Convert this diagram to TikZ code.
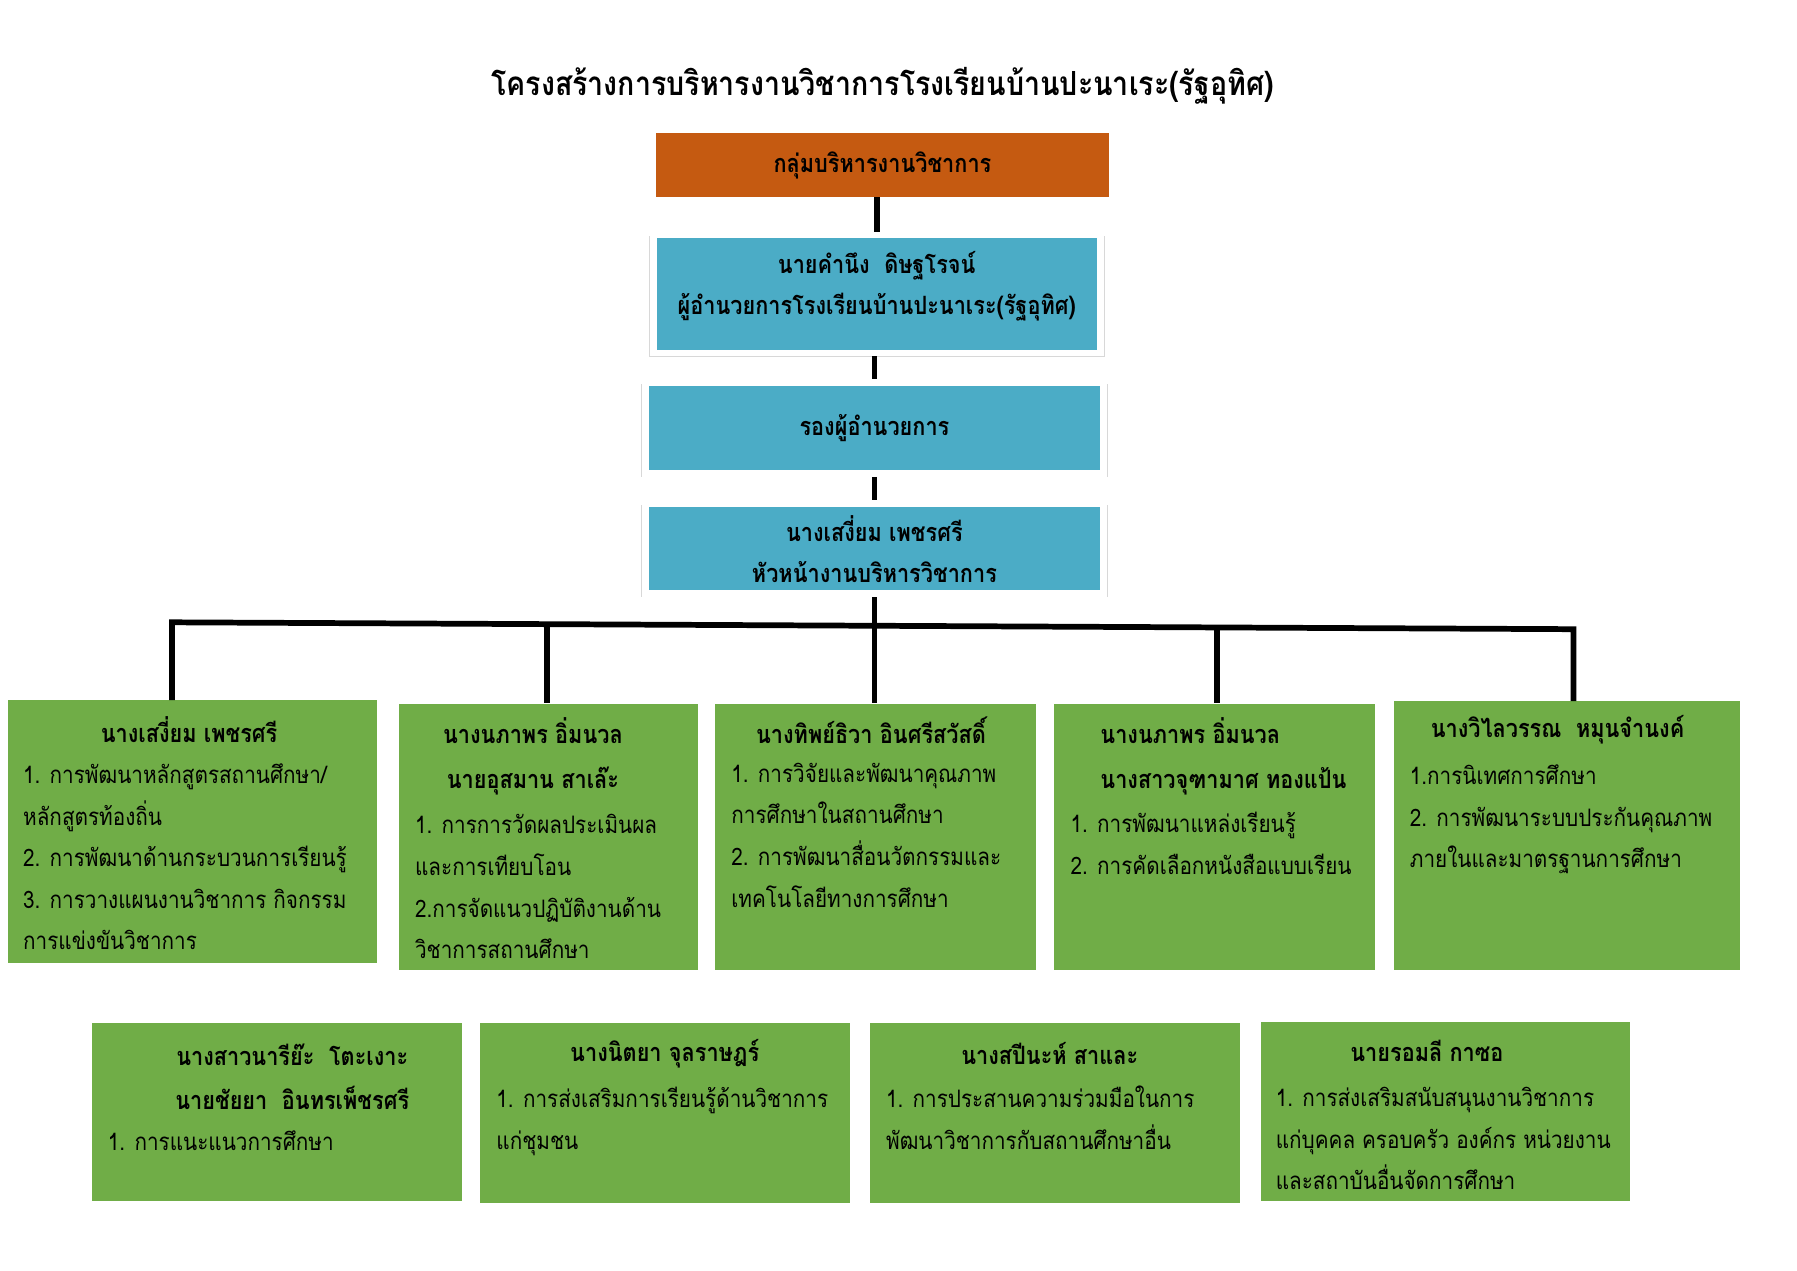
\documentclass[tikz,border=0pt]{standalone}
\usepackage{fontspec}
\setmainfont[Script=Thai, FakeStretch=0.86]{Loma}
\usetikzlibrary{shadows}

\definecolor{orghead}{HTML}{C55A11}
\definecolor{unitblue}{HTML}{4BACC6}
\definecolor{taskgreen}{HTML}{70AD47}

\tikzset{
  link/.style={line width=5pt},
  orgbox/.style={fill=orghead, inner sep=0pt, minimum width=396pt, minimum height=56pt},
  unitbox/.style={fill=unitblue, draw=white, line width=6pt, inner sep=0pt,
    drop shadow={shadow scale=1.02, shadow xshift=0pt, shadow yshift=-2pt, opacity=0.22, fill=black!70}},
  taskbox/.style={fill=taskgreen, inner sep=0pt},
  headtext/.style={font=\fontsize{22}{39}\selectfont\bfseries, align=center, inner sep=0pt},
  bodytext/.style={font=\fontsize{21}{36.3}\selectfont, align=left, anchor=north west, inner sep=0pt}
}

\begin{document}
\begin{tikzpicture}[x=1pt, y=-1pt]
        \useasboundingbox (0,0) rectangle (1568,1109);

        \node [font=\fontsize{29}{34}\selectfont\bfseries] (title) at (770,75)
          {โครงสร้างการบริหารงานวิชาการโรงเรียนบ้านปะนาเระ(รัฐอุทิศ)};

        \node [orgbox] (org) at (770,144) {};
        \node [headtext] at (org) {กลุ่มบริหารงานวิชาการ};

        \node [unitbox, minimum width=390pt, minimum height=103pt] (dir) at (765,256.5) {};
        \node [headtext, font=\fontsize{22}{36}\selectfont\bfseries] at (765,250)
          {นายคำนึง\ \ ดิษฐโรจน์\\ผู้อำนวยการโรงเรียนบ้านปะนาเระ(รัฐอุทิศ)};

        \node [unitbox, minimum width=400pt, minimum height=79pt] (dep) at (763,373.5) {};
        \node [headtext] at (dep) {รองผู้อำนวยการ};

        \node [unitbox, minimum width=400pt, minimum height=79pt] (head) at (763,478.5) {};
        \node [headtext, font=\fontsize{22}{36}\selectfont\bfseries] at (763,479)
          {นางเสงี่ยม เพชรศรี\\หัวหน้างานบริหารวิชาการ};

        \draw [link] (org.south -| dir.north) -- (dir.north);
        \draw [link] (dir.south -| dep.north) -- (dep.north);
        \draw [link] (dep) -- (head);

        % first row
        \node [taskbox, minimum width=322pt, minimum height=229pt] (g1) at (168,725.5) {};
        \node [taskbox, minimum width=261pt, minimum height=232pt] (g2) at (478.5,730) {};
        \node [taskbox, minimum width=280pt, minimum height=232pt] (g3) at (764,730) {};
        \node [taskbox, minimum width=280pt, minimum height=232pt] (g4) at (1060,730) {};
        \node [taskbox, minimum width=302pt, minimum height=234pt] (g5) at (1367,729) {};

        \coordinate (b1) at (150,543);
        \coordinate (b2) at (477,545);
        \coordinate (b3) at (763,546);
        \coordinate (b4) at (1062,548);
        \coordinate (b5) at (1373,549);

        \draw [link] (head.south) -- (b3);
        \draw [link] (g1.north -| b1) -- (b1) -- (b5) -- (g5.north -| b5);
        \draw [link] (b2) -- (g2.north -| b2);
        \draw [link] (b3) -- (g3.north -| b3);
        \draw [link] (b4) -- (g4.north -| b4);

        \node [headtext] at (165,637) {นางเสงี่ยม เพชรศรี};
        \node [bodytext] at (20,658) {\strut 1. การพัฒนาหลักสูตรสถานศึกษา/\\หลักสูตรท้องถิ่น\\2. การพัฒนาด้านกระบวนการเรียนรู้\\3. การวางแผนงานวิชาการ กิจกรรม\\การแข่งขันวิชาการ};

        \node [headtext] at (465,660) {นางนภาพร อิ่มนวล\\นายอุสมาน สาเล๊ะ};
        \node [bodytext] at (362,702) {\strut 1. การการวัดผลประเมินผล\\และการเทียบโอน\\2.การจัดแนวปฏิบัติงานด้าน\\วิชาการสถานศึกษา};

        \node [headtext] at (760,637) {นางทิพย์ธิวา อินศรีสวัสดิ์};
        \node [bodytext] at (638,657) {\strut 1. การวิจัยและพัฒนาคุณภาพ\\การศึกษาในสถานศึกษา\\2. การพัฒนาสื่อนวัตกรรมและ\\เทคโนโลยีทางการศึกษา};

        \node [headtext, align=left, anchor=west] at (960,660) {นางนภาพร อิ่มนวล\\นางสาวจุฑามาศ ทองแป้น};
        \node [bodytext] at (934,701) {\strut 1. การพัฒนาแหล่งเรียนรู้\\2. การคัดเลือกหนังสือแบบเรียน};

        \node [headtext] at (1359,637) {นางวิไลวรรณ\ \ หมุนจำนงค์};
        \node [bodytext] at (1230,659) {\strut 1.การนิเทศการศึกษา\\2. การพัฒนาระบบประกันคุณภาพ\\ภายในและมาตรฐานการศึกษา};

        % second row
        \node [taskbox, minimum width=323pt, minimum height=155pt] (h1) at (241.5,970.5) {};
        \node [taskbox, minimum width=323pt, minimum height=157pt] (h2) at (580.5,971.5) {};
        \node [taskbox, minimum width=323pt, minimum height=157pt] (h3) at (920.5,971.5) {};
        \node [taskbox, minimum width=322pt, minimum height=156pt] (h4) at (1261,970) {};

        \node [headtext] at (255,939.5) {นางสาวนารีย๊ะ\ \ โตะเงาะ\\นายชัยยา\ \ อินทรเพ็ชรศรี};
        \node [bodytext] at (94,978) {\strut 1. การแนะแนวการศึกษา};

        \node [headtext] at (580,919) {นางนิตยา จุลราษฎร์};
        \node [bodytext] at (433,941) {\strut 1. การส่งเสริมการเรียนรู้ด้านวิชาการ\\แก่ชุมชน};

        \node [headtext] at (916,919) {นางสปีนะห์ สาและ};
        \node [bodytext] at (773,941) {\strut 1. การประสานความร่วมมือในการ\\พัฒนาวิชาการกับสถานศึกษาอื่น};

        \node [headtext] at (1245,917) {นายรอมลี กาซอ};
        \node [bodytext] at (1113,940) {\strut 1. การส่งเสริมสนับสนุนงานวิชาการ\\แก่บุคคล ครอบครัว องค์กร หน่วยงาน\\และสถาบันอื่นจัดการศึกษา};
      \end{tikzpicture}
\end{document}
